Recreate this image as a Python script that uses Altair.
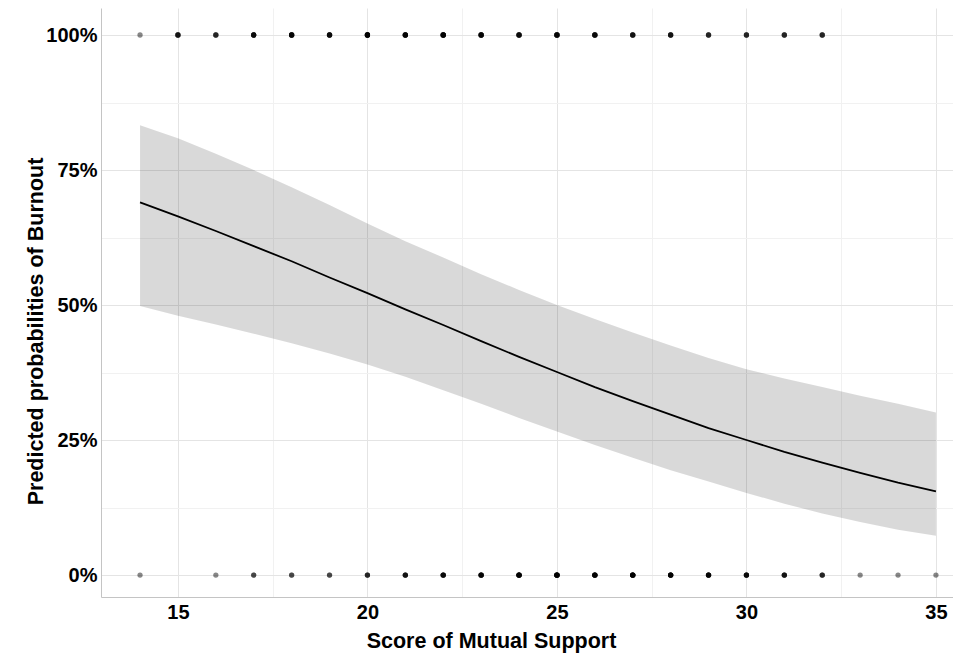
import altair as alt
import pandas as pd

# Predicted curve
score = list(range(14, 36))
pred = [0.690, 0.664, 0.637, 0.609, 0.581, 0.551, 0.522, 0.492, 0.463, 0.433, 0.404,
        0.376, 0.348, 0.322, 0.297, 0.272, 0.250, 0.228, 0.208, 0.189, 0.171, 0.155]
upper = [0.833, 0.809, 0.780, 0.750, 0.718, 0.685, 0.651, 0.618, 0.588, 0.557, 0.528,
         0.500, 0.474, 0.449, 0.425, 0.402, 0.381, 0.364, 0.348, 0.332, 0.317, 0.301]
lower = [0.498, 0.480, 0.464, 0.447, 0.429, 0.410, 0.390, 0.367, 0.342, 0.317, 0.291,
         0.266, 0.241, 0.217, 0.194, 0.173, 0.152, 0.132, 0.114, 0.098, 0.084, 0.0725]

# Observed outcomes: number of respondents at each score
burnout_scores = [14, 15, 16, 17, 18, 19, 20, 21, 22, 23, 24, 25, 26, 27, 28, 29, 30, 31, 32]
burnout_counts = [1, 4, 3, 5, 6, 5, 8, 6, 7, 6, 5, 6, 5, 4, 4, 3, 3, 3, 3]
no_burnout_scores = [14, 16, 17, 18, 19, 20, 21, 22, 23, 24, 25, 26, 27, 28, 29, 30, 31, 32, 33, 34, 35]
no_burnout_counts = [1, 1, 2, 2, 2, 3, 4, 5, 6, 8, 9, 7, 8, 7, 6, 5, 4, 3, 1, 1, 1]

x_ticks = [15, 20, 25, 30, 35]
x_minor = [17.5, 22.5, 27.5, 32.5]
y_ticks = [0, 0.25, 0.5, 0.75, 1.0]
y_minor = [0.125, 0.375, 0.625, 0.875]

curve = pd.DataFrame({"score": score, "pred": pred, "upper": upper, "lower": lower})

rows = []
for s, c in zip(burnout_scores, burnout_counts):
    rows += [{"score": s, "outcome": 1.0}] * c
for s, c in zip(no_burnout_scores, no_burnout_counts):
    rows += [{"score": s, "outcome": 0.0}] * c
obs = pd.DataFrame(rows)

FONT = "Liberation Sans"
xscale = alt.Scale(domain=[12.97, 35.45], nice=False, zero=False)
yscale = alt.Scale(domain=[-0.0407, 1.05], nice=False, zero=False)

x_major_axis = alt.Axis(
    values=x_ticks, format="d", grid=True, gridColor="#e4e4e4", gridWidth=1,
    ticks=False, domain=True, domainColor="#c4c4c4", domainWidth=1,
    labelFont=FONT, labelFontSize=20, labelFontWeight="bold", labelColor="black",
    labelPadding=5,
    title="Score of Mutual Support", titleFont=FONT, titleFontSize=21.5,
    titleFontWeight="bold", titleColor="black",
    titleX=390, titleY=50, titleAlign="center", titleBaseline="alphabetic",
)
y_major_axis = alt.Axis(
    values=y_ticks, format=".0%", grid=True, gridColor="#e4e4e4", gridWidth=1,
    ticks=False, domain=True, domainColor="#c4c4c4", domainWidth=1,
    labelFont=FONT, labelFontSize=20, labelFontWeight="bold", labelColor="black",
    labelPadding=4,
    title="Predicted probabilities of Burnout", titleFont=FONT, titleFontSize=21.5,
    titleFontWeight="bold", titleColor="black", titleAngle=270,
    titleX=-59, titleY=323, titleAlign="center", titleBaseline="alphabetic",
)
x_minor_axis = alt.Axis(values=x_minor, grid=True, gridColor="#f1f1f1", labels=False,
                        ticks=False, domain=False, title=None, orient="top")
y_minor_axis = alt.Axis(values=y_minor, grid=True, gridColor="#f1f1f1", labels=False,
                        ticks=False, domain=False, title=None, orient="right")

minor = alt.Chart(curve).mark_point(opacity=0).encode(
    x=alt.X("score:Q", scale=xscale, axis=x_minor_axis),
    y=alt.Y("pred:Q", scale=yscale, axis=y_minor_axis),
)

band = alt.Chart(curve).mark_area(color="black", opacity=0.15).encode(
    x=alt.X("score:Q", scale=xscale, axis=x_major_axis),
    y=alt.Y("lower:Q", scale=yscale, axis=y_major_axis),
    y2="upper:Q",
)

line = alt.Chart(curve).mark_line(color="black", strokeWidth=1.8).encode(
    x=alt.X("score:Q", scale=xscale, axis=None),
    y=alt.Y("pred:Q", scale=yscale, axis=None),
)

points = alt.Chart(obs).mark_circle(color="black", opacity=0.47, size=28).encode(
    x=alt.X("score:Q", scale=xscale, axis=None),
    y=alt.Y("outcome:Q", scale=yscale, axis=None),
)

chart = (
    alt.layer(minor, band, line, points)
    .resolve_axis(x="independent", y="independent")
    .properties(
        width=852, height=589,
        autosize=alt.AutoSizeParams(type="none"),
        padding={"left": 93, "top": 0, "right": 0, "bottom": 56},
        background="white",
    )
    .configure_view(stroke=None)
)

chart.save("out.html", embed_options={"renderer": "svg", "actions": False})
